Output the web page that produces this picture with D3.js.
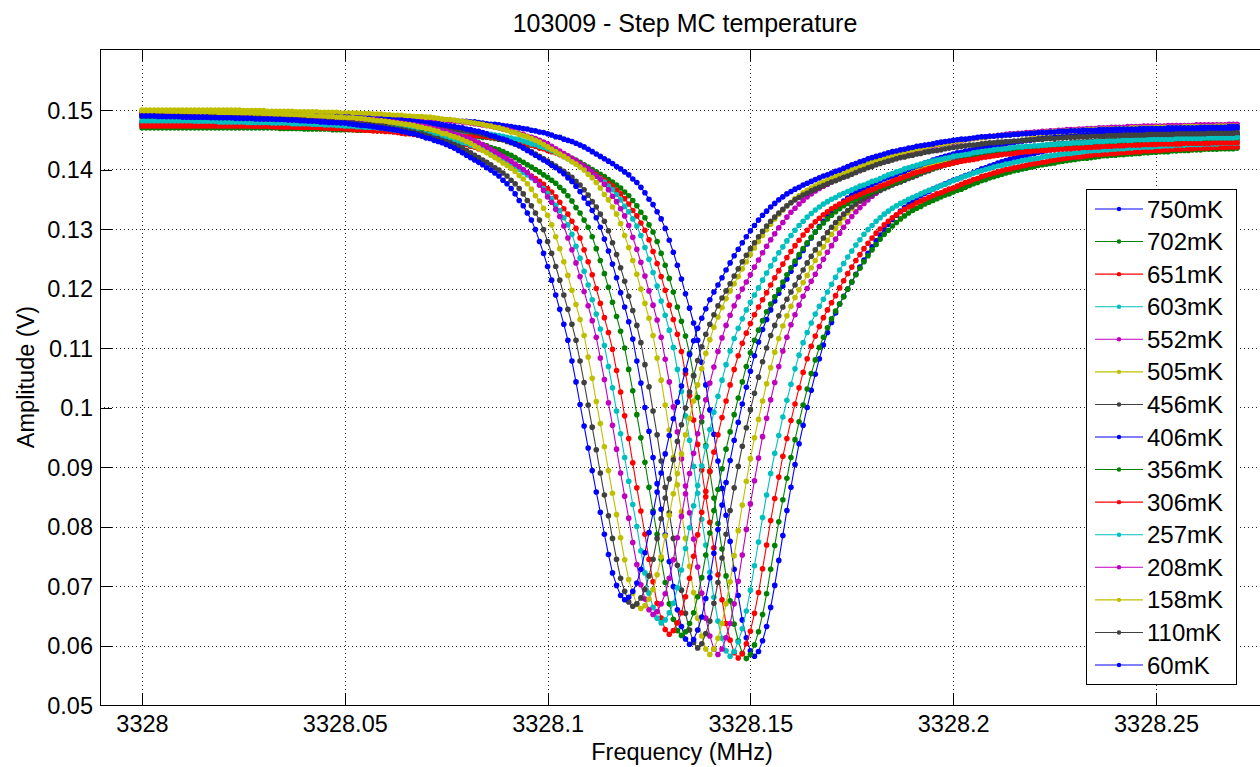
<!DOCTYPE html>
<html>
<head>
<meta charset="utf-8">
<script src="https://cdn.jsdelivr.net/npm/d3@7"></script>
<style>
  html, body { margin: 0; padding: 0; background: #fff; }
  svg { display: block; font-family: "Liberation Sans", Arial, Helvetica, sans-serif; }
</style>
</head>
<body>
<svg id="chart" width="1260" height="767"></svg>
<script>
// Frequency sweep: 271 points from 3328.000 MHz in 0.001 MHz steps
const freqStart = 3328.000;
const freqStep = 0.001;

// Mixing-chamber temperature of each sweep, in plotting order
const labels = ["750mK", "702mK", "651mK", "603mK", "552mK", "505mK", "456mK", "406mK",
                "356mK", "306mK", "257mK", "208mK", "158mK", "110mK", "60mK"];

// Measured amplitude per sweep, in units of 0.1 mV
const amp750 = [
1492,1492,1492,1492,1492,1492,1492,1492,1492,1492,1492,1492,1492,1492,1492,1492,1492,1492,1492,1492,
1492,1492,1492,1492,1492,1492,1492,1492,1492,1492,1492,1492,
1492,1492,1492,1492,1491,1491,1491,1491,1491,1491,1490,1490,1490,1490,1490,1490,1490,1489,1489,1489,
1489,1489,1489,1488,1488,1488,1488,1488,1487,1487,1487,1487,1487,1486,1486,1486,1485,1485,1485,1484,
1484,1483,1483,1483,1482,1482,1481,1481,1481,1480,1480,1479,1478,1477,1476,1476,1475,1474,1473,1472,
1471,1470,1469,1468,1466,1465,1463,1462,1460,1458,1455,1454,1451,1449,1447,1444,1441,1438,1434,1430,
1426,1422,1418,1414,1410,1405,1401,1396,1391,1384,1378,1370,1361,1350,1341,1329,1317,1301,1281,1261,
1239,1216,1191,1167,1142,
1113,1076,1038,996,955,910,864,819,775,728,684,643,613,591,
582,590,608,632,664,701,743,785,827,866,904,939,970,1000,
1029,1056,1082,1105,1126,1143,1159,
1174,1187,1199,1211,1224,1236,1248,1259,1270,1280,1290,1299,1308,1316,1323,1330,1336,1342,1347,1352,
1356,1360,1363,1367,1370,1373,1376,1379,1382,1384,1387,1390,1392,1395,1398,1401,1403,1406,1408,1411,
1413,1415,1417,1419,1421,1423,1424,1426,1427,1429,1430,1432,1433,1434,1435,1436,1438,1439,1440,1441,
1442,1443,1444,1444,1445,1446,1447,1448,1448,1449,1449,1450,1450,1451,1451,1452,1452,1453,1453,1454,
1454,1455,1455,1455,1456,1456,1457,1457,1457,1458,1458,1458,1459,1459,1459,1459,1460,1460,1460
];
const amp702 = [
1470,1470,1470,1470,1470,1470,1470,1470,1470,1470,1470,1470,1470,1470,1470,1470,1470,1470,1470,1470,
1470,1470,1470,1470,1470,1470,1470,1470,1470,1470,
1470,1470,1470,1470,1469,1469,1469,1469,1469,1469,1468,1468,1468,1468,1468,1468,1468,1467,1467,1467,
1467,1467,1467,1466,1466,1466,1466,1466,1465,1465,1465,1465,1465,1464,1464,1464,1463,1463,1463,1462,
1462,1461,1461,1461,1460,1460,1459,1459,1459,1458,1458,1457,1456,1455,1454,1454,1453,1452,1451,1450,
1449,1448,1447,1446,1444,1443,1441,1440,1438,1436,1433,1432,1429,1427,1425,1422,1419,1416,1412,1408,
1404,1400,1396,1392,1388,1383,1379,1374,1369,1362,1356,1348,1339,1328,1319,1307,1295,1279,1259,1239,
1217,1194,1169,1145,1120,
1091,1054,1017,976,936,892,848,805,762,717,675,636,608,587,
578,585,601,623,652,687,728,768,808,845,881,916,946,976,
1004,1031,1057,1080,1101,1118,1134,
1149,1162,1174,1186,1199,1211,1223,1234,1245,1255,1265,1274,1283,1291,1298,1305,1311,1317,1322,1327,
1331,1335,1338,1342,1345,1348,1351,1354,1357,1359,1362,1365,1367,1370,1373,1376,1378,1381,1383,1386,
1388,1390,1392,1394,1396,1398,1399,1401,1402,1404,1405,1407,1408,1409,1410,1411,1413,1414,1415,1416,
1417,1418,1419,1419,1420,1421,1422,1423,1423,1424,1424,1425,1425,1426,1426,1427,1427,1428,1428,1429,
1429,1430,1430,1430,1431,1431,1432,1432,1432,1433,1433,1433,1434,1434,1434,1434,1435,1435,1435,1435,1436
];
const amp651 = [
1473,1473,1473,1473,1473,1473,1473,1473,1473,1473,1473,1473,1473,1473,1473,1473,1473,1473,1473,1473,
1473,1473,1473,1473,1473,1473,1473,1473,
1473,1473,1473,1473,1472,1472,1472,1472,1472,1472,1471,1471,1471,1471,1471,1471,1471,1470,1470,1470,
1470,1470,1470,1469,1469,1469,1469,1469,1468,1468,1468,1468,1468,1467,1467,1467,1466,1466,1466,1465,
1465,1464,1464,1464,1463,1463,1462,1462,1462,1461,1461,1460,1459,1458,1457,1457,1456,1455,1454,1453,
1452,1451,1450,1449,1447,1446,1444,1443,1441,1439,1436,1435,1432,1430,1428,1425,1422,1419,1415,1411,
1407,1403,1399,1395,1391,1386,1382,1377,1372,1365,1359,1351,1342,1331,1322,1310,1298,1282,1262,1242,
1220,1197,1172,1148,1123,
1094,1057,1020,979,938,895,850,807,764,719,677,637,609,588,
579,586,603,624,654,689,729,769,810,847,883,918,948,978,
1006,1033,1059,1082,1103,1120,1136,
1151,1164,1176,1188,1201,1213,1225,1236,1247,1257,1267,1276,1285,1293,1300,1307,1313,1319,1324,1329,
1333,1337,1340,1344,1347,1350,1353,1356,1359,1361,1364,1367,1369,1372,1375,1378,1380,1383,1385,1388,
1390,1392,1394,1396,1398,1400,1401,1403,1404,1406,1407,1409,1410,1411,1412,1413,1415,1416,1417,1418,
1419,1420,1421,1421,1422,1423,1424,1425,1425,1426,1426,1427,1427,1428,1428,1429,1429,1430,1430,1431,
1431,1432,1432,1432,1433,1433,1434,1434,1434,1435,1435,1435,1436,1436,1436,1436,1437,1437,1437,1437,
1438,1438,1438
];
const amp603 = [
1480,1480,1480,1480,1480,1480,1480,1480,1480,1480,1480,1480,1480,1480,1480,1480,1480,1480,1480,1480,
1480,1480,1480,1480,1480,1480,
1480,1480,1480,1480,1479,1479,1479,1479,1479,1479,1478,1478,1478,1478,1478,1478,1478,1477,1477,1477,
1477,1477,1477,1476,1476,1476,1476,1476,1475,1475,1475,1475,1475,1474,1474,1474,1473,1473,1473,1472,
1472,1471,1471,1471,1470,1470,1469,1469,1469,1468,1468,1467,1466,1465,1464,1464,1463,1462,1461,1460,
1459,1458,1457,1456,1454,1453,1451,1450,1448,1446,1443,1442,1439,1437,1435,1432,1429,1426,1422,1418,
1414,1410,1406,1402,1398,1393,1389,1384,1379,1372,1366,1358,1349,1338,1329,1317,1305,1289,1269,1249,
1227,1204,1179,1155,1130,
1101,1064,1027,986,945,901,856,812,769,723,681,641,612,591,
582,590,606,628,658,693,734,774,815,853,889,923,953,984,
1012,1039,1065,1088,1109,1126,1142,
1157,1170,1182,1194,1207,1219,1231,1242,1253,1263,1273,1282,1291,1299,1306,1313,1319,1325,1330,1335,
1339,1343,1346,1350,1353,1356,1359,1362,1365,1367,1370,1373,1375,1378,1381,1384,1386,1389,1391,1394,
1396,1398,1400,1402,1404,1406,1407,1409,1410,1412,1413,1415,1416,1417,1418,1419,1421,1422,1423,1424,
1425,1426,1427,1427,1428,1429,1430,1431,1431,1432,1432,1433,1433,1434,1434,1435,1435,1436,1436,1437,
1437,1438,1438,1438,1439,1439,1440,1440,1440,1441,1441,1441,1442,1442,1442,1442,1443,1443,1443,1443,
1444,1444,1444,1444,1444
];
const amp552 = [
1497,1497,1497,1497,1497,1497,1497,1497,1497,1497,1497,1497,1497,1497,1497,1497,1497,1497,1497,1497,
1497,1497,1497,
1497,1497,1497,1497,1496,1496,1496,1496,1496,1496,1495,1495,1495,1495,1495,1495,1495,1494,1494,1494,
1494,1494,1494,1493,1493,1493,1493,1493,1492,1492,1492,1492,1492,1491,1491,1491,1490,1490,1490,1489,
1489,1488,1488,1488,1487,1487,1486,1486,1486,1485,1485,1484,1483,1482,1481,1481,1480,1479,1478,1477,
1476,1475,1474,1473,1471,1470,1468,1467,1465,1463,1460,1459,1456,1454,1452,1449,1446,1443,1439,1435,
1431,1427,1423,1419,1415,1410,1406,1401,1396,1389,1383,1375,1366,1355,1346,1334,1322,1306,1286,1266,
1244,1221,1196,1172,1147,
1118,1081,1043,1001,959,914,868,823,779,732,688,646,616,594,
585,594,613,637,670,708,752,795,838,877,915,951,982,1013,
1042,1069,1095,1118,1139,1156,1172,
1187,1200,1212,1224,1237,1249,1261,1272,1283,1293,1303,1312,1321,1329,1336,1343,1349,1355,1360,1365,
1369,1373,1376,1380,1383,1386,1389,1392,1395,1397,1400,1403,1405,1408,1411,1414,1416,1419,1421,1424,
1426,1428,1430,1432,1434,1436,1437,1439,1440,1442,1443,1445,1446,1447,1448,1449,1451,1452,1453,1454,
1455,1456,1457,1457,1458,1459,1460,1461,1461,1462,1462,1463,1463,1464,1464,1465,1465,1466,1466,1467,
1467,1468,1468,1468,1469,1469,1470,1470,1470,1471,1471,1471,1472,1472,1472,1472,1473,1473,1473,1473,
1474,1474,1474,1474,1474,1474,1475,1475
];
const amp505 = [
1500,1500,1500,1500,1500,1500,1500,1500,1500,1500,1500,1500,1500,1500,1500,1500,1500,1500,1500,1500,
1500,
1500,1500,1500,1500,1499,1499,1499,1499,1499,1499,1498,1498,1498,1498,1498,1498,1498,1497,1497,1497,
1497,1497,1497,1496,1496,1496,1496,1496,1495,1495,1495,1495,1495,1494,1494,1494,1493,1493,1493,1492,
1492,1491,1491,1491,1490,1490,1489,1489,1489,1488,1488,1487,1486,1485,1484,1484,1483,1482,1481,1480,
1479,1478,1477,1476,1474,1473,1471,1470,1468,1466,1463,1462,1459,1457,1455,1452,1449,1446,1442,1438,
1434,1430,1426,1422,1418,1413,1409,1404,1399,1392,1386,1378,1369,1358,1349,1337,1325,1309,1289,1269,
1247,1224,1199,1175,1150,
1121,1083,1046,1004,962,916,870,825,780,733,689,646,616,594,
585,594,612,637,670,707,751,793,836,876,914,949,980,1011,
1040,1067,1093,1116,1137,1154,1170,
1185,1198,1210,1222,1235,1247,1259,1270,1281,1291,1301,1310,1319,1327,1334,1341,1347,1353,1358,1363,
1367,1371,1374,1378,1381,1384,1387,1390,1393,1395,1398,1401,1403,1406,1409,1412,1414,1417,1419,1422,
1424,1426,1428,1430,1432,1434,1435,1437,1438,1440,1441,1443,1444,1445,1446,1447,1449,1450,1451,1452,
1453,1454,1455,1455,1456,1457,1458,1459,1459,1460,1460,1461,1461,1462,1462,1463,1463,1464,1464,1465,
1465,1466,1466,1466,1467,1467,1468,1468,1468,1469,1469,1469,1470,1470,1470,1470,1471,1471,1471,1471,
1472,1472,1472,1472,1472,1472,1473,1473,1473,1473
];
const amp456 = [
1488,1488,1488,1488,1488,1488,1488,1488,1488,1488,1488,1488,1488,1488,1488,1488,1488,1488,
1488,1488,1488,1488,1487,1487,1487,1487,1487,1487,1486,1486,1486,1486,1486,1486,1486,1485,1485,1485,
1485,1485,1485,1484,1484,1484,1484,1484,1483,1483,1483,1483,1483,1482,1482,1482,1481,1481,1481,1480,
1480,1479,1479,1479,1478,1478,1477,1477,1477,1476,1476,1475,1474,1473,1472,1472,1471,1470,1469,1468,
1467,1466,1465,1464,1462,1461,1459,1458,1456,1454,1451,1450,1447,1445,1443,1440,1437,1434,1430,1426,
1422,1418,1414,1410,1406,1401,1397,1392,1387,1380,1374,1366,1357,1346,1337,1325,1313,1297,1277,1257,
1235,1212,1187,1163,1138,
1109,1072,1035,994,954,910,866,823,780,735,693,654,626,605,
596,603,620,641,671,706,747,787,827,865,901,935,966,996,
1024,1051,1077,1100,1121,1138,1154,
1169,1182,1194,1206,1219,1231,1243,1254,1265,1275,1285,1294,1303,1311,1318,1325,1331,1337,1342,1347,
1351,1355,1358,1362,1365,1368,1371,1374,1377,1379,1382,1385,1387,1390,1393,1396,1398,1401,1403,1406,
1408,1410,1412,1414,1416,1418,1419,1421,1422,1424,1425,1427,1428,1429,1430,1431,1433,1434,1435,1436,
1437,1438,1439,1439,1440,1441,1442,1443,1443,1444,1444,1445,1445,1446,1446,1447,1447,1448,1448,1449,
1449,1450,1450,1450,1451,1451,1452,1452,1452,1453,1453,1453,1454,1454,1454,1454,1455,1455,1455,1455,
1456,1456,1456,1456,1456,1456,1457,1457,1457,1457,1457,1457,1457
];
const amp406 = [
1494,1494,1494,1494,1494,1494,1494,1494,1494,1494,1494,1494,1494,1494,1494,1494,
1494,1494,1494,1494,1493,1493,1493,1493,1493,1493,1492,1492,1492,1492,1492,1492,1492,1491,1491,1491,
1491,1491,1491,1490,1490,1490,1490,1490,1489,1489,1489,1489,1489,1488,1488,1488,1487,1487,1487,1486,
1486,1485,1485,1485,1484,1484,1483,1483,1483,1482,1482,1481,1480,1479,1478,1478,1477,1476,1475,1474,
1473,1472,1471,1470,1468,1467,1465,1464,1462,1460,1457,1456,1453,1451,1449,1446,1443,1440,1436,1432,
1428,1424,1420,1416,1412,1407,1403,1398,1393,1386,1380,1372,1363,1352,1343,1331,1319,1303,1283,1263,
1241,1218,1193,1169,1144,
1115,1078,1041,1000,960,916,872,829,786,741,699,660,632,611,
602,610,626,648,679,714,755,795,836,874,911,945,975,1006,
1034,1061,1087,1110,1131,1148,1164,
1179,1192,1204,1216,1229,1241,1253,1264,1275,1285,1295,1304,1313,1321,1328,1335,1341,1347,1352,1357,
1361,1365,1368,1372,1375,1378,1381,1384,1387,1389,1392,1395,1397,1400,1403,1406,1408,1411,1413,1416,
1418,1420,1422,1424,1426,1428,1429,1431,1432,1434,1435,1437,1438,1439,1440,1441,1443,1444,1445,1446,
1447,1448,1449,1449,1450,1451,1452,1453,1453,1454,1454,1455,1455,1456,1456,1457,1457,1458,1458,1459,
1459,1460,1460,1460,1461,1461,1462,1462,1462,1463,1463,1463,1464,1464,1464,1464,1465,1465,1465,1465,
1466,1466,1466,1466,1466,1466,1467,1467,1467,1467,1467,1467,1467,1468,1468
];
const amp356 = [
1478,1478,1478,1478,1478,1478,1478,1478,1478,1478,1478,1478,1478,1478,
1478,1478,1478,1478,1477,1477,1477,1477,1477,1477,1476,1476,1476,1476,1476,1476,1476,1475,1475,1475,
1475,1475,1475,1474,1474,1474,1474,1474,1473,1473,1473,1473,1473,1472,1472,1472,1471,1471,1471,1470,
1470,1469,1469,1469,1468,1468,1467,1467,1467,1466,1466,1465,1464,1463,1462,1462,1461,1460,1459,1458,
1457,1456,1455,1454,1452,1451,1449,1448,1446,1444,1441,1440,1437,1435,1433,1430,1427,1424,1420,1416,
1412,1408,1404,1400,1396,1391,1387,1382,1377,1370,1364,1356,1347,1336,1327,1315,1303,1287,1267,1247,
1225,1202,1177,1153,1128,
1100,1064,1028,988,949,908,866,826,787,745,706,670,644,625,
617,623,637,655,682,714,752,789,827,862,897,930,959,988,
1016,1043,1069,1092,1113,1130,1146,
1161,1174,1186,1198,1211,1223,1235,1246,1257,1267,1277,1286,1295,1303,1310,1317,1323,1329,1334,1339,
1343,1347,1350,1354,1357,1360,1363,1366,1369,1371,1374,1377,1379,1382,1385,1388,1390,1393,1395,1398,
1400,1402,1404,1406,1408,1410,1411,1413,1414,1416,1417,1419,1420,1421,1422,1423,1425,1426,1427,1428,
1429,1430,1431,1431,1432,1433,1434,1435,1435,1436,1436,1437,1437,1438,1438,1439,1439,1440,1440,1441,
1441,1442,1442,1442,1443,1443,1444,1444,1444,1445,1445,1445,1446,1446,1446,1446,1447,1447,1447,1447,
1448,1448,1448,1448,1448,1448,1449,1449,1449,1449,1449,1449,1449,1450,1450,1450,1450
];
const amp306 = [
1476,1476,1476,1476,1476,1476,1476,1476,1476,1476,1476,
1476,1476,1476,1476,1475,1475,1475,1475,1475,1475,1474,1474,1474,1474,1474,1474,1474,1473,1473,1473,
1473,1473,1473,1472,1472,1472,1472,1472,1471,1471,1471,1471,1471,1470,1470,1470,1469,1469,1469,1468,
1468,1467,1467,1467,1466,1466,1465,1465,1465,1464,1464,1463,1462,1461,1460,1460,1459,1458,1457,1456,
1455,1454,1453,1452,1450,1449,1447,1446,1444,1442,1439,1438,1435,1433,1431,1428,1425,1422,1418,1414,
1410,1406,1402,1398,1394,1389,1385,1380,1375,1368,1362,1354,1345,1334,1325,1313,1301,1285,1265,1245,
1223,1200,1175,1151,1126,
1098,1062,1026,986,948,907,865,826,787,745,707,671,646,627,
619,625,638,655,682,713,750,786,824,859,893,925,954,983,
1011,1038,1064,1087,1108,1125,1141,
1156,1169,1181,1193,1206,1218,1230,1241,1252,1262,1272,1281,1290,1298,1305,1312,1318,1324,1329,1334,
1338,1342,1345,1349,1352,1355,1358,1361,1364,1366,1369,1372,1374,1377,1380,1383,1385,1388,1390,1393,
1395,1397,1399,1401,1403,1405,1406,1408,1409,1411,1412,1414,1415,1416,1417,1418,1420,1421,1422,1423,
1424,1425,1426,1426,1427,1428,1429,1430,1430,1431,1431,1432,1432,1433,1433,1434,1434,1435,1435,1436,
1436,1437,1437,1437,1438,1438,1439,1439,1439,1440,1440,1440,1441,1441,1441,1441,1442,1442,1442,1442,
1443,1443,1443,1443,1443,1443,1444,1444,1444,1444,1444,1444,1444,1445,1445,1445,1445,1445,1445,1445
];
const amp257 = [
1482,1482,1482,1482,1482,1482,1482,1482,1482,
1482,1482,1482,1482,1481,1481,1481,1481,1481,1481,1480,1480,1480,1480,1480,1480,1480,1479,1479,1479,
1479,1479,1479,1478,1478,1478,1478,1478,1477,1477,1477,1477,1477,1476,1476,1476,1475,1475,1475,1474,
1474,1473,1473,1473,1472,1472,1471,1471,1471,1470,1470,1469,1468,1467,1466,1466,1465,1464,1463,1462,
1461,1460,1459,1458,1456,1455,1453,1452,1450,1448,1445,1444,1441,1439,1437,1434,1431,1428,1424,1420,
1416,1412,1408,1404,1400,1395,1391,1386,1381,1374,1368,1360,1351,1340,1331,1319,1307,1291,1271,1251,
1229,1206,1181,1157,1132,
1104,1069,1033,994,956,916,876,837,800,759,722,688,664,646,
638,643,655,671,697,727,763,798,835,869,902,934,963,992,
1019,1046,1072,1095,1116,1133,1149,
1164,1177,1189,1201,1214,1226,1238,1249,1260,1270,1280,1289,1298,1306,1313,1320,1326,1332,1337,1342,
1346,1350,1353,1357,1360,1363,1366,1369,1372,1374,1377,1380,1382,1385,1388,1391,1393,1396,1398,1401,
1403,1405,1407,1409,1411,1413,1414,1416,1417,1419,1420,1422,1423,1424,1425,1426,1428,1429,1430,1431,
1432,1433,1434,1434,1435,1436,1437,1438,1438,1439,1439,1440,1440,1441,1441,1442,1442,1443,1443,1444,
1444,1445,1445,1445,1446,1446,1447,1447,1447,1448,1448,1448,1449,1449,1449,1449,1450,1450,1450,1450,
1451,1451,1451,1451,1451,1451,1452,1452,1452,1452,1452,1452,1452,1453,1453,1453,1453,1453,1453,1453,
1453,1454
];
const amp208 = [
1496,1496,1496,1496,1496,1496,1496,
1496,1496,1496,1496,1495,1495,1495,1495,1495,1495,1494,1494,1494,1494,1494,1494,1494,1493,1493,1493,
1493,1493,1493,1492,1492,1492,1492,1492,1491,1491,1491,1491,1491,1490,1490,1490,1489,1489,1489,1488,
1488,1487,1487,1487,1486,1486,1485,1485,1485,1484,1484,1483,1482,1481,1480,1480,1479,1478,1477,1476,
1475,1474,1473,1472,1470,1469,1467,1466,1464,1462,1459,1458,1455,1453,1451,1448,1445,1442,1438,1434,
1430,1426,1422,1418,1414,1409,1405,1400,1395,1388,1382,1374,1365,1354,1345,1333,1321,1305,1285,1265,
1243,1220,1195,1171,1146,
1118,1083,1047,1008,970,930,890,851,814,773,736,702,678,660,
652,657,670,687,713,744,781,817,855,889,923,956,984,1013,
1041,1068,1094,1117,1138,1155,1171,
1186,1199,1211,1223,1236,1248,1260,1271,1282,1292,1302,1311,1320,1328,1335,1342,1348,1354,1359,1364,
1368,1372,1375,1379,1382,1385,1388,1391,1394,1396,1399,1402,1404,1407,1410,1413,1415,1418,1420,1423,
1425,1427,1429,1431,1433,1435,1436,1438,1439,1441,1442,1444,1445,1446,1447,1448,1450,1451,1452,1453,
1454,1455,1456,1456,1457,1458,1459,1460,1460,1461,1461,1462,1462,1463,1463,1464,1464,1465,1465,1466,
1466,1467,1467,1467,1468,1468,1469,1469,1469,1470,1470,1470,1471,1471,1471,1471,1472,1472,1472,1472,
1473,1473,1473,1473,1473,1473,1474,1474,1474,1474,1474,1474,1474,1475,1475,1475,1475,1475,1475,1475,
1475,1476,1476,1476
];
const amp158 = [
1498,1498,1498,1498,
1498,1498,1498,1498,1497,1497,1497,1497,1497,1497,1496,1496,1496,1496,1496,1496,1496,1495,1495,1495,
1495,1495,1495,1494,1494,1494,1494,1494,1493,1493,1493,1493,1493,1492,1492,1492,1491,1491,1491,1490,
1490,1489,1489,1489,1488,1488,1487,1487,1487,1486,1486,1485,1484,1483,1482,1482,1481,1480,1479,1478,
1477,1476,1475,1474,1472,1471,1469,1468,1466,1464,1461,1460,1457,1455,1453,1450,1447,1444,1440,1436,
1432,1428,1424,1420,1416,1411,1407,1402,1397,1390,1384,1376,1367,1356,1347,1335,1323,1307,1287,1267,
1245,1222,1197,1173,1148,
1121,1085,1049,1010,973,934,894,856,820,781,744,711,688,669,
662,667,678,694,719,749,784,819,855,889,922,954,982,1011,
1038,1065,1091,1114,1135,1152,1168,
1183,1196,1208,1220,1233,1245,1257,1268,1279,1289,1299,1308,1317,1325,1332,1339,1345,1351,1356,1361,
1365,1369,1372,1376,1379,1382,1385,1388,1391,1393,1396,1399,1401,1404,1407,1410,1412,1415,1417,1420,
1422,1424,1426,1428,1430,1432,1433,1435,1436,1438,1439,1441,1442,1443,1444,1445,1447,1448,1449,1450,
1451,1452,1453,1453,1454,1455,1456,1457,1457,1458,1458,1459,1459,1460,1460,1461,1461,1462,1462,1463,
1463,1464,1464,1464,1465,1465,1466,1466,1466,1467,1467,1467,1468,1468,1468,1468,1469,1469,1469,1469,
1470,1470,1470,1470,1470,1470,1471,1471,1471,1471,1471,1471,1471,1472,1472,1472,1472,1472,1472,1472,
1472,1473,1473,1473,1473,1473,1473
];
const amp110 = [
1490,1490,
1490,1490,1490,1490,1489,1489,1489,1489,1489,1489,1488,1488,1488,1488,1488,1488,1488,1487,1487,1487,
1487,1487,1487,1486,1486,1486,1486,1486,1485,1485,1485,1485,1485,1484,1484,1484,1483,1483,1483,1482,
1482,1481,1481,1481,1480,1480,1479,1479,1479,1478,1478,1477,1476,1475,1474,1474,1473,1472,1471,1470,
1469,1468,1467,1466,1464,1463,1461,1460,1458,1456,1453,1452,1449,1447,1445,1442,1439,1436,1432,1428,
1424,1420,1416,1412,1408,1403,1399,1394,1389,1382,1376,1368,1359,1348,1339,1327,1315,1299,1279,1259,
1237,1214,1189,1165,1140,
1113,1078,1042,1004,967,929,890,853,818,780,745,713,691,673,
666,670,680,694,717,745,780,813,848,880,912,943,971,999,
1026,1053,1079,1102,1123,1140,1156,
1171,1184,1196,1208,1221,1233,1245,1256,1267,1277,1287,1296,1305,1313,1320,1327,1333,1339,1344,1349,
1353,1357,1360,1364,1367,1370,1373,1376,1379,1381,1384,1387,1389,1392,1395,1398,1400,1403,1405,1408,
1410,1412,1414,1416,1418,1420,1421,1423,1424,1426,1427,1429,1430,1431,1432,1433,1435,1436,1437,1438,
1439,1440,1441,1441,1442,1443,1444,1445,1445,1446,1446,1447,1447,1448,1448,1449,1449,1450,1450,1451,
1451,1452,1452,1452,1453,1453,1454,1454,1454,1455,1455,1455,1456,1456,1456,1456,1457,1457,1457,1457,
1458,1458,1458,1458,1458,1458,1459,1459,1459,1459,1459,1459,1459,1460,1460,1460,1460,1460,1460,1460,
1460,1461,1461,1461,1461,1461,1461,1461,1462
];
const amp60 = [
1490,1490,1490,1490,1489,1489,1489,1489,1489,1489,1488,1488,1488,1488,1488,1488,1488,1487,1487,1487,
1487,1487,1487,1486,1486,1486,1486,1486,1485,1485,1485,1485,1485,1484,1484,1484,1483,1483,1483,1482,
1482,1481,1481,1481,1480,1480,1479,1479,1479,1478,1478,1477,1476,1475,1474,1474,1473,1472,1471,1470,
1469,1468,1467,1466,1464,1463,1461,1460,1458,1456,1453,1452,1449,1447,1445,1442,1439,1436,1432,1428,
1424,1420,1416,1412,1408,1403,1399,1394,1389,1382,1376,1368,1359,1348,1339,1327,1315,1299,1279,1259,
1237,1214,1189,1165,1140,
1113,1078,1043,1005,969,932,894,858,824,787,753,722,701,684,
677,681,691,705,728,756,790,823,858,890,922,953,981,1009,
1036,1063,1089,1112,1133,1150,1166,
1181,1194,1206,1218,1231,1243,1255,1266,1277,1287,1297,1306,1315,1323,1330,1337,1343,1349,1354,1359,
1363,1367,1370,1374,1377,1380,1383,1386,1389,1391,1394,1397,1399,1402,1405,1408,1410,1413,1415,1418,
1420,1422,1424,1426,1428,1430,1431,1433,1434,1436,1437,1439,1440,1441,1442,1443,1445,1446,1447,1448,
1449,1450,1451,1451,1452,1453,1454,1455,1455,1456,1456,1457,1457,1458,1458,1459,1459,1460,1460,1461,
1461,1462,1462,1462,1463,1463,1464,1464,1464,1465,1465,1465,1466,1466,1466,1466,1467,1467,1467,1467,
1468,1468,1468,1468,1468,1468,1469,1469,1469,1469,1469,1469,1469,1470,1470,1470,1470,1470,1470,1470,
1470,1471,1471,1471,1471,1471,1471,1471,1472,1472,1472
];

const amplitudes = [amp750, amp702, amp651, amp603, amp552, amp505, amp456, amp406,
                    amp356, amp306, amp257, amp208, amp158, amp110, amp60];

// Axis ticks
const xTicks = [3328, 3328.05, 3328.1, 3328.15, 3328.2, 3328.25];
const xTickLabels = ["3328", "3328.05", "3328.1", "3328.15", "3328.2", "3328.25"];
const yTicks = [0.05, 0.06, 0.07, 0.08, 0.09, 0.10, 0.11, 0.12, 0.13, 0.14, 0.15];
const yTickLabels = ["0.05", "0.06", "0.07", "0.08", "0.09", "0.1", "0.11", "0.12", "0.13", "0.14", "0.15"];

// Line colour cycle
const palette = ["#0000ff", "#008000", "#ff0000", "#00bfbf", "#bf00bf", "#bfbf00", "#404040"];

// ---------------------------------------------------------------------------
const svg = d3.select("#chart");
const frame = { left: 100, top: 49, bottom: 705, right: 1290 };

const x = d3.scaleLinear().domain([3328, 3328.25]).range([142, 1156]);
const y = d3.scaleLinear().domain([0.05, 0.15]).range([705, 110]);

const series = labels.map((label, i) => ({
  label,
  color: palette[i % palette.length],
  points: amplitudes[i].map((v, j) => ({ f: freqStart + j * freqStep, a: v / 10000 }))
}));

// Dotted grid
const grid = svg.append("g")
  .attr("stroke", "#262626")
  .attr("stroke-width", 1)
  .attr("stroke-dasharray", "1,3")
  .attr("shape-rendering", "crispEdges");
grid.selectAll("line.vx").data(xTicks).join("line")
  .attr("x1", d => Math.round(x(d)) + 0.5).attr("x2", d => Math.round(x(d)) + 0.5)
  .attr("y1", frame.top).attr("y2", frame.bottom);
grid.selectAll("line.hy").data(yTicks.slice(1)).join("line")
  .attr("x1", frame.left).attr("x2", frame.right)
  .attr("y1", d => Math.round(y(d)) + 0.5).attr("y2", d => Math.round(y(d)) + 0.5);

// Axes with inward ticks
const fontTick = 23.5;
const xAxis = svg.append("g")
  .attr("transform", `translate(0,${frame.bottom})`)
  .call(d3.axisBottom(x).tickValues(xTicks).tickFormat((d, i) => xTickLabels[i])
    .tickSize(-12).tickPadding(10));
const xAxisTop = svg.append("g")
  .attr("transform", `translate(0,${frame.top})`)
  .call(d3.axisTop(x).tickValues(xTicks).tickFormat("").tickSize(-12));
const yAxis = svg.append("g")
  .attr("transform", `translate(${frame.left},0)`)
  .call(d3.axisLeft(y).tickValues(yTicks).tickFormat((d, i) => yTickLabels[i])
    .tickSize(-12).tickPadding(7));

[xAxis, xAxisTop, yAxis].forEach(g => {
  g.select(".domain").remove();
  g.selectAll(".tick line").attr("stroke", "#000").attr("shape-rendering", "crispEdges");
  g.selectAll(".tick text").attr("fill", "#000").style("font-size", fontTick + "px")
    .style("font-family", '"Liberation Sans", Arial, sans-serif');
});
yAxis.selectAll(".tick text").attr("dy", "0.36em");

// Axes box
svg.append("path")
  .attr("d", `M${frame.right},${frame.top + 0.5}H${frame.left + 0.5}V${frame.bottom + 0.5}H${frame.right}`)
  .attr("fill", "none").attr("stroke", "#000").attr("stroke-width", 1)
  .attr("shape-rendering", "crispEdges");

// Sweeps: line plus point markers, first label drawn first
const line = d3.line().x(d => x(d.f)).y(d => y(d.a));
const plot = svg.append("g");
series.forEach(s => {
  const g = plot.append("g");
  g.append("path")
    .attr("d", line(s.points))
    .attr("fill", "none")
    .attr("stroke", s.color)
    .attr("stroke-width", 1.1);
  g.selectAll("circle").data(s.points).join("circle")
    .attr("cx", d => x(d.f))
    .attr("cy", d => y(d.a))
    .attr("r", 2.8)
    .attr("fill", s.color);
});

// Title and axis labels
svg.append("text")
  .attr("x", 685).attr("y", 31.5)
  .attr("text-anchor", "middle")
  .style("font-size", "25px")
  .text("103009 - Step MC temperature");
svg.append("text")
  .attr("x", 682).attr("y", 760)
  .attr("text-anchor", "middle")
  .style("font-size", "23.5px")
  .text("Frequency (MHz)");
svg.append("text")
  .attr("transform", "translate(33.5,377) rotate(-90)")
  .attr("text-anchor", "middle")
  .style("font-size", "23.5px")
  .text("Amplitude (V)");

// Legend
const legend = svg.append("g");
legend.append("rect")
  .attr("x", 1086.5).attr("y", 189.5)
  .attr("width", 150).attr("height", 495)
  .attr("fill", "#fff").attr("stroke", "#000").attr("stroke-width", 1);
const rowY = d3.scalePoint().domain(labels).range([209, 665]);
const rows = legend.selectAll("g.row").data(series).join("g")
  .attr("transform", d => `translate(0,${rowY(d.label)})`);
rows.append("line")
  .attr("x1", 1095).attr("x2", 1143).attr("y1", 0).attr("y2", 0)
  .attr("stroke", d => d.color).attr("stroke-width", 1.1);
rows.append("circle")
  .attr("cx", 1119).attr("cy", 0).attr("r", 2.2)
  .attr("fill", d => d.color);
rows.append("text")
  .attr("x", 1147).attr("y", 0).attr("dy", "0.36em")
  .style("font-size", "24px")
  .text(d => d.label);
</script>
</body>
</html>
